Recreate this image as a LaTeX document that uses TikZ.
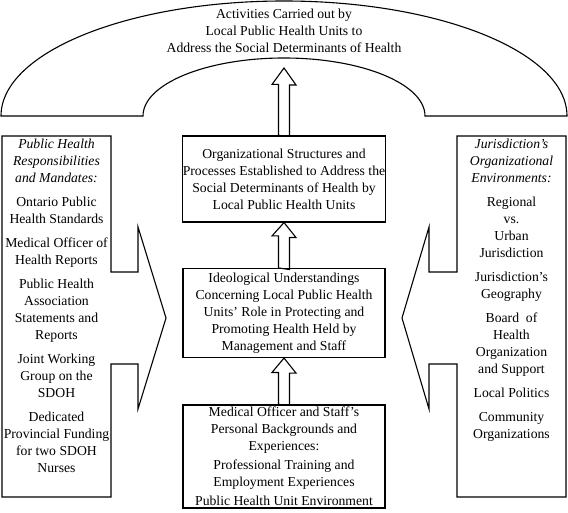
\documentclass[tikz,border=0pt]{standalone}
\usepackage{fontspec}
\setmainfont{Liberation Serif}
\usepackage{tikz}

\begin{document}
\begin{tikzpicture}
  [x=1pt,y=-1pt]
      \tikzstyle{line_style} = [draw=black, line width=1.1pt, line join=miter]
      \tikzstyle{text_style} = [font=\fontsize{13.7}{17}\selectfont, align=center, inner sep=0pt]
      \tikzstyle{box_style} = [text_style, draw=black, line width=1.1pt, minimum width=202pt]
  \useasboundingbox (0,0) rectangle (568,513);
  % arch on top
  \draw[line_style] (1,116) arc[start angle=180, end angle=0, x radius=283pt, y radius=115pt]
    -- (425,116) arc[start angle=0, end angle=180, x radius=141pt, y radius=58pt] -- cycle;
  \node[text_style] (act) at (284,31) {Activities Carried out by\\Local Public Health Units to\\Address the Social Determinants of Health};
  \coordinate (act_tip) at (284,68);
  % centre column
  \node[box_style, minimum height=86pt] (org) at (284,179) {Organizational Structures and\\Processes Established to Address the\\Social Determinants of Health by\\Local Public Health Units};
  \node[box_style, minimum height=89pt] (ideo) at (284,313) {Ideological Understandings\\Concerning Local Public Health\\Units' Role in Protecting and\\Promoting Health Held by\\Management and Staff};
  \node[box_style, minimum height=103pt] (pers) at (284,456.5) {Medical Officer and Staff's\\Personal Backgrounds and\\Experiences:\\[2pt]Professional Training and\\Employment Experiences\\[2pt]Public Health Unit Environment};
  % fat arrows
  \draw[line_style] (org.north) ++(-5.5,0) -- ++(0,-51) -- ++(-6.5,0) -- (act_tip) -- ++(12,17) -- ++(-6.5,0) -- ++(0,51) -- cycle;
  \draw[line_style] (ideo.north) ++(-5.5,0) -- ++(0,-32) -- ++(-6.5,0) -- (org.south) -- ++(12,15) -- ++(-6.5,0) -- ++(0,32) -- cycle;
  \draw[line_style] (pers.north) ++(-5.5,0) -- ++(0,-32) -- ++(-6.5,0) -- (ideo.south) -- ++(12,15) -- ++(-6.5,0) -- ++(0,32) -- cycle;
  % left box with arrow
  \draw[line_style] (111,272) -- (138,272) -- (138,227) -- (166,318) -- (138,409) -- (138,364) -- (111,364)
    -- (111,497) -- (2,497) -- (2,136) -- (111,136) -- cycle;
  \node[text_style, anchor=north] (resp) at (56.5,139) {\textit{Public Health}\\\textit{Responsibilities}\\\textit{and Mandates:}\\[7pt]Ontario Public\\Health Standards\\[7pt]Medical Officer of\\Health Reports\\[7pt]Public Health\\Association\\Statements and\\Reports\\[7pt]Joint Working\\Group on the\\SDOH\\[7pt]Dedicated\\Provincial Funding\\for two SDOH\\Nurses};
  % right box with arrow
  \draw[line_style] (457,272) -- (429,272) -- (429,227) -- (402,318) -- (429,409) -- (429,364) -- (457,364)
    -- (457,497) -- (566,497) -- (566,136) -- (457,136) -- cycle;
  \node[text_style, anchor=north] (juris) at (511.5,139) {\textit{Jurisdiction's}\\\textit{Organizational}\\\textit{Environments:}\\[7pt]Regional\\vs.\\Urban\\Jurisdiction\\[7pt]Jurisdiction's\\Geography\\[7pt]Board~ of\\Health\\Organization\\and Support\\[7pt]Local Politics\\[7pt]Community\\Organizations};
\end{tikzpicture}
\end{document}
